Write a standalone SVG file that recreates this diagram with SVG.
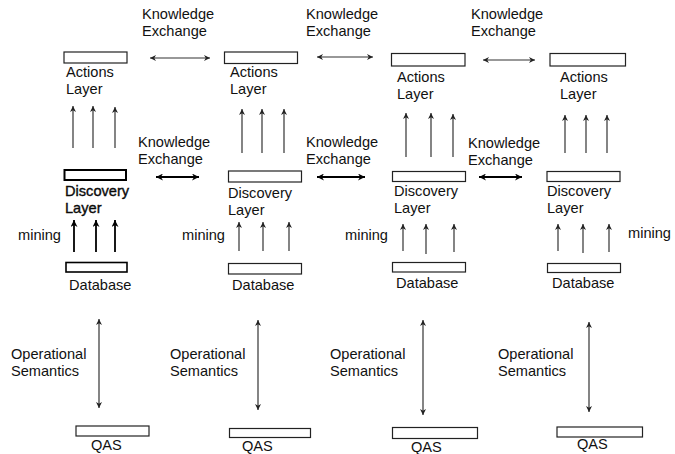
<svg xmlns="http://www.w3.org/2000/svg" width="675" height="454" viewBox="0 0 675 454">
<defs>
<marker id="ah" viewBox="0 0 10 10" refX="10" refY="5" markerWidth="7" markerHeight="6" markerUnits="userSpaceOnUse" orient="auto-start-reverse">
<path d="M0,0 L10,5 L0,10 L3,5 z" fill="#222"/>
</marker>
<marker id="ahb" viewBox="0 0 10 10" refX="10" refY="5" markerWidth="8" markerHeight="7" markerUnits="userSpaceOnUse" orient="auto-start-reverse">
<path d="M0,0 L10,5 L0,10 L3,5 z" fill="#000"/>
</marker>
<style>
text{font-family:"Liberation Sans",Arial,sans-serif;font-size:14.6px;fill:#111}
rect{fill:#fff;stroke:#222;stroke-width:1.2}
.bold{stroke:#000;stroke-width:2}
.mid{stroke:#000;stroke-width:1.6}
.bt{stroke:#000;stroke-width:0.35}
line{stroke:#333;stroke-width:1.2}
.up{marker-end:url(#ah)}
.upb{marker-end:url(#ahb);stroke:#000;stroke-width:1.8}
.dbl{marker-start:url(#ah);marker-end:url(#ah)}
.dblb{marker-start:url(#ahb);marker-end:url(#ahb);stroke:#000;stroke-width:1.8}
</style>
</defs>

<g id="actions1"><rect x="64" y="52" width="63" height="11"/><text x="66" y="77.3">Actions<tspan x="66" dy="16.5">Layer</tspan></text></g>
<g id="actions2"><rect x="224.5" y="52" width="73" height="11.5"/><text x="230" y="77.3">Actions<tspan x="230" dy="16.5">Layer</tspan></text></g>
<g id="actions3"><rect x="391.5" y="53.5" width="73.5" height="12.5"/><text x="397" y="82.3">Actions<tspan x="397" dy="16.5">Layer</tspan></text></g>
<g id="actions4"><rect x="550" y="53.5" width="75.5" height="12.5"/><text x="560" y="82.3">Actions<tspan x="560" dy="16.5">Layer</tspan></text></g>

<g id="discovery1"><rect class="bold" x="64.5" y="170" width="61.5" height="10"/><text class="bt" x="65" y="196.3">Discovery<tspan x="65" dy="16.5">Layer</tspan></text></g>
<g id="discovery2"><rect x="228.5" y="171" width="73" height="11"/><text x="228" y="198.3">Discovery<tspan x="228" dy="16.5">Layer</tspan></text></g>
<g id="discovery3"><rect x="392.5" y="171.5" width="73" height="10"/><text x="394" y="196.3">Discovery<tspan x="394" dy="16.5">Layer</tspan></text></g>
<g id="discovery4"><rect x="547" y="171.5" width="73" height="10"/><text x="547" y="196.3">Discovery<tspan x="547" dy="16.5">Layer</tspan></text></g>

<g id="database1"><rect class="mid" x="66" y="262.5" width="61" height="9.5"/><text x="69" y="290">Database</text></g>
<g id="database2"><rect x="228.5" y="263.5" width="73" height="10.5"/><text x="232" y="290">Database</text></g>
<g id="database3"><rect x="392.5" y="262.5" width="73" height="9.5"/><text x="396" y="288">Database</text></g>
<g id="database4"><rect x="547.5" y="263.5" width="73" height="9"/><text x="552" y="288">Database</text></g>

<g id="qas1"><rect x="76" y="426" width="73" height="10"/><text x="91" y="450">QAS</text></g>
<g id="qas2"><rect x="229.5" y="428.5" width="81" height="9"/><text x="242" y="451">QAS</text></g>
<g id="qas3"><rect x="392.5" y="427.5" width="85" height="11"/><text x="411" y="452">QAS</text></g>
<g id="qas4"><rect x="557" y="427" width="85.5" height="10"/><text x="577" y="449">QAS</text></g>

<g id="labels">
<text x="142" y="19.3">Knowledge<tspan x="142" dy="16.5">Exchange</tspan></text>
<text x="306" y="19.3">Knowledge<tspan x="306" dy="16.5">Exchange</tspan></text>
<text x="471" y="19.3">Knowledge<tspan x="471" dy="16.5">Exchange</tspan></text>
<text x="138" y="147.3">Knowledge<tspan x="138" dy="16.5">Exchange</tspan></text>
<text x="306" y="147.3">Knowledge<tspan x="306" dy="16.5">Exchange</tspan></text>
<text x="468" y="148.3">Knowledge<tspan x="468" dy="16.5">Exchange</tspan></text>
<text x="18" y="240">mining</text>
<text x="182" y="240">mining</text>
<text x="345" y="240">mining</text>
<text x="628" y="238">mining</text>
<text x="11" y="359.3">Operational<tspan x="11" dy="16.5">Semantics</tspan></text>
<text x="170" y="359.3">Operational<tspan x="170" dy="16.5">Semantics</tspan></text>
<text x="330" y="359.3">Operational<tspan x="330" dy="16.5">Semantics</tspan></text>
<text x="498" y="359.3">Operational<tspan x="498" dy="16.5">Semantics</tspan></text>
</g>

<g id="connectors">
<line class="dbl" x1="150" y1="58" x2="210" y2="58"/>
<line class="dbl" x1="317" y1="57" x2="373" y2="57"/>
<line class="dbl" x1="483" y1="60" x2="535" y2="60"/>
<line class="dblb" x1="156" y1="177" x2="199" y2="177"/>
<line class="dblb" x1="317" y1="177" x2="365" y2="177"/>
<line class="dblb" x1="479" y1="177" x2="522" y2="177"/>

<line class="up" x1="73" y1="148" x2="73" y2="106"/>
<line class="up" x1="93" y1="148" x2="93" y2="106"/>
<line class="up" x1="115" y1="148" x2="115" y2="107"/>
<line class="up" x1="242" y1="153" x2="242" y2="109"/>
<line class="up" x1="262" y1="153" x2="262" y2="109"/>
<line class="up" x1="284" y1="153" x2="284" y2="109"/>
<line class="up" x1="406" y1="157" x2="406" y2="113"/>
<line class="up" x1="431" y1="157" x2="431" y2="113"/>
<line class="up" x1="453" y1="157" x2="453" y2="114"/>
<line class="up" x1="565" y1="153" x2="565" y2="115"/>
<line class="up" x1="586" y1="153" x2="586" y2="115"/>
<line class="up" x1="607" y1="153" x2="607" y2="115"/>

<line class="upb" x1="74" y1="252" x2="74" y2="220"/>
<line class="upb" x1="96" y1="252" x2="96" y2="220"/>
<line class="upb" x1="115" y1="252" x2="115" y2="220"/>
<line class="up" x1="239" y1="251" x2="239" y2="222"/>
<line class="up" x1="263" y1="251" x2="263" y2="222"/>
<line class="up" x1="289" y1="251" x2="289" y2="222"/>
<line class="up" x1="403" y1="251" x2="403" y2="224"/>
<line class="up" x1="426" y1="254" x2="426" y2="224"/>
<line class="up" x1="454" y1="252" x2="454" y2="224"/>
<line class="up" x1="558" y1="251" x2="558" y2="224"/>
<line class="up" x1="583" y1="253" x2="583" y2="224"/>
<line class="up" x1="609" y1="252" x2="609" y2="224"/>

<line class="dbl" x1="99" y1="319" x2="99" y2="408"/>
<line class="dbl" x1="258" y1="320" x2="258" y2="410"/>
<line class="dbl" x1="423" y1="320" x2="423" y2="415"/>
<line class="dbl" x1="589" y1="322" x2="589" y2="412"/>
</g>
</svg>
